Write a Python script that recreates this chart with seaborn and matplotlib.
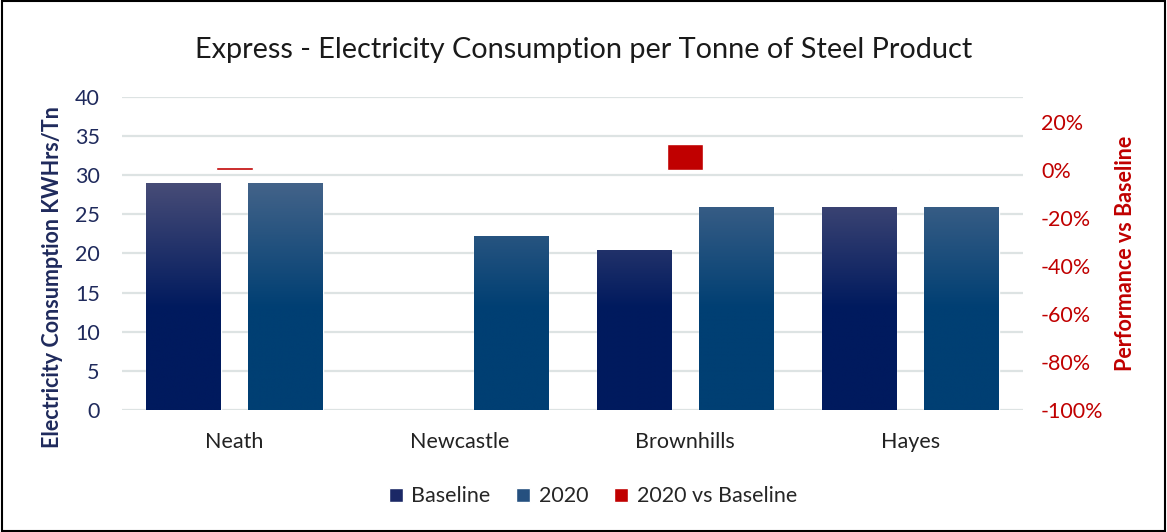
import numpy as np
import pandas as pd
import matplotlib
matplotlib.use("Agg")
import matplotlib.pyplot as plt
import matplotlib.colors as mcolors
from matplotlib.patches import Patch, Rectangle
import seaborn as sns

# Data
sites = ["Neath", "Newcastle", "Brownhills", "Hayes"]
baseline = [29.0, np.nan, 20.4, 25.9]
y2020 = [29.0, 22.2, 26.0, 25.9]
vs_baseline = [0.012, np.nan, 0.11, 0.002]

sns.set_style("white")
plt.rcParams['font.family'] = ['Lato', 'DejaVu Sans']

df = pd.DataFrame({
    "site": sites * 2,
    "series": ["Baseline"] * 4 + ["2020"] * 4,
    "value": baseline + y2020,
})
perf = pd.DataFrame({"site": sites, "value": vs_baseline})

navy = "#1f2a5c"
red = "#c00000"
base_col = "#001a5e"
c2020_col = "#003f73"
grad = {
    base_col: ("#474c77", base_col),
    c2020_col: ("#436389", c2020_col),
}

fig = plt.figure(figsize=(11.67, 5.32), dpi=100)
ax = fig.add_axes([0.1045, 0.2293, 0.772, 0.5884])

sns.barplot(data=df, x="site", y="value", hue="series", order=sites,
            hue_order=["Baseline", "2020"], width=0.908, gap=0.27,
            palette={"Baseline": base_col, "2020": c2020_col}, saturation=1,
            legend=False, ax=ax, zorder=2)

ax.set_ylim(0, 40)
ax.set_xlim(-0.5, 3.5)
ax.set_yticks(range(0, 41, 5))
ax.yaxis.grid(True, color="#dde3e3", linewidth=1.6, zorder=0)
ax.set_axisbelow(True)
for s in ax.spines.values():
    s.set_visible(False)
ax.tick_params(axis="y", colors=navy, labelsize=15.5, length=0, pad=16)
ax.tick_params(axis="x", colors="#222222", labelsize=15.5, length=0, pad=16)
ax.set_xlabel("")
ax.set_ylabel("Electricity Consumption KWHrs/Tn", color=navy, fontsize=15.5,
              fontweight="bold")
ax.yaxis.set_label_coords(-0.065, 0.425)

# vertical gradient on each bar
for p in list(ax.patches):
    h = p.get_height()
    if not np.isfinite(h) or h == 0:
        continue
    fc = mcolors.to_hex(p.get_facecolor())
    if fc not in grad:
        continue
    top, bot = grad[fc]
    cmap = mcolors.LinearSegmentedColormap.from_list(
        fc, [(0, bot), (0.45, bot), (1, top)])
    x0, y0 = p.get_x(), p.get_y()
    w = p.get_width()
    g = np.linspace(0, 1, 256).reshape(-1, 1) * (h / 29.0)
    im = ax.imshow(g, cmap=cmap, vmin=0, vmax=1, origin="lower",
                   extent=[x0, x0 + w, y0, y0 + h], aspect="auto", zorder=3,
                   interpolation="bilinear")
    im.set_clip_path(p)
ax.set_xlim(-0.5, 3.5)
ax.set_ylim(0, 40)

ax2 = ax.twinx()
sns.barplot(data=perf, x="site", y="value", order=sites, color=red,
            saturation=1, width=0.164, ax=ax2, zorder=4)
ax2.set_ylim(-1.0, 0.304)
ax2.set_yticks(np.arange(-1.0, 0.21, 0.2))
ax2.set_yticklabels([f"{v:.0f}%" for v in np.arange(-100, 21, 20)])
for s in ax2.spines.values():
    s.set_visible(False)
ax2.tick_params(axis="y", colors=red, labelsize=15.5, length=0, pad=13)
ax2.set_ylabel("Performance vs Baseline", color=red, fontsize=15.5,
               fontweight="bold", labelpad=8)
ax2.set_xlim(-0.5, 3.5)

fig.suptitle("Express - Electricity Consumption per Tonne of Steel Product",
             x=0.5, y=0.93, fontsize=20.8, color="#1a1a1a")

handles = [Patch(facecolor="#1b2866", label="Baseline"),
           Patch(facecolor="#25507f", label="2020"),
           Patch(facecolor=red, label="2020 vs Baseline")]
fig.legend(handles=handles, loc="center", bbox_to_anchor=(0.508, 0.067),
           ncol=3, frameon=False, fontsize=15.5, handlelength=0.65,
           handleheight=0.65, handletextpad=0.4, columnspacing=1.2)

fig.patches.append(Rectangle((0.002, 0.002), 0.996, 0.996, transform=fig.transFigure,
                             fill=False, edgecolor="black", linewidth=1.5))

fig.savefig("out.png", dpi=100)
